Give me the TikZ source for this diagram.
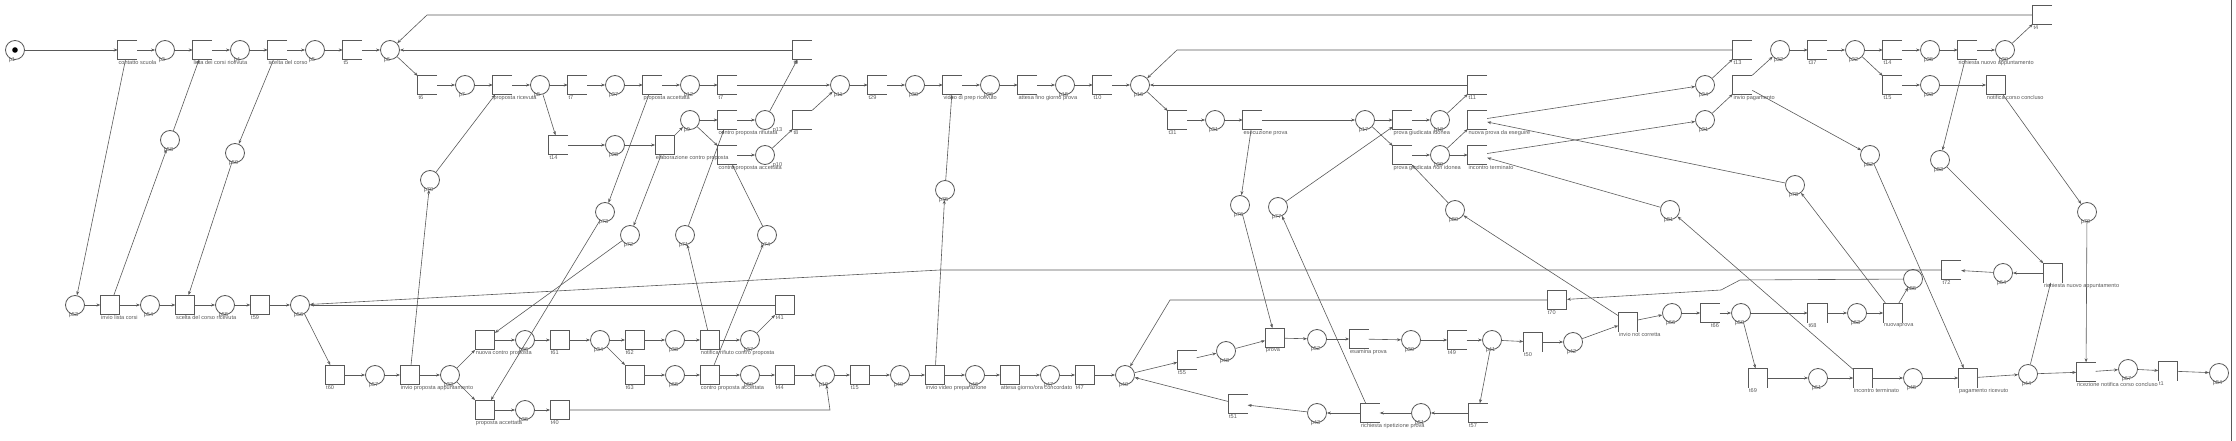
\documentclass[tikz,border=0pt]{standalone}
\usepackage{fontspec}
\setmainfont{Liberation Sans}
\usetikzlibrary{arrows.meta}
\definecolor{linec}{gray}{0.35}
\definecolor{labc}{gray}{0.35}

\begin{document}
\begin{tikzpicture}[x=1pt, y=-1pt,
    lbl/.style={anchor=north west, font=\fontsize{5.6}{6.5}\selectfont, text=labc, inner sep=0.6pt},
    pbase/.style={circle, draw=linec, line width=0.8pt, minimum size=19pt, inner sep=0pt},
    place/.style={pbase, label={[lbl]south west:#1}},
    placeR/.style={pbase, label={[lbl]south east:#1}},
    trans/.style={rectangle, draw=linec, line width=0.8pt, minimum size=19pt, inner sep=0pt, label={[lbl]south west:#1}},
    ghost/.style={rectangle, minimum size=19pt, inner sep=0pt, label={[lbl]south west:#1}},
    arc/.style={draw=linec, line width=0.6pt, -{Stealth[length=4pt, width=3pt]}},
    side/.style={draw=linec, line width=0.8pt}]
\useasboundingbox (0,0) rectangle (2236,441);

% riga iniziale
\node[place=p1] (p1) at (15,50) {};
\fill[black] (p1) circle (2.8pt);
\node[ghost=contatto scuola] (tcs) at (127.5,50) {};
\node[place=p3] (p3) at (165,50) {};
\node[ghost=lista dei corsi ricevuta] (tldc) at (202.5,50) {};
\node[place=p4] (p4) at (240,50) {};
\node[ghost=scelta del corso] (tsc) at (277.5,50) {};
\node[place=p5] (p5) at (315,50) {};
\node[ghost=t5] (t5) at (352.5,50) {};
\node[place=p6] (p6) at (390,50) {};
\node[ghost=t9] (t9) at (802.5,50) {};
\node[ghost=t13] (t13) at (1742.5,50) {};
\node[place=p32] (p32) at (1780,50) {};
\node[ghost=t37] (t37) at (1817.5,50) {};
\node[place=p22] (p22) at (1855,50) {};
\node[ghost=t14] (t14b) at (1892.5,50) {};
\node[place=p25] (p25) at (1930,50) {};
\node[ghost=richiesta nuovo appuntamento] (trna) at (1967.5,50) {};
\node[place=p20] (p20) at (2005,50) {};
\node[ghost=t4] (t4) at (2042.5,15) {};

% proposta e prova
\node[ghost=t6] (t6) at (427.5,85) {};
\node[place=p7] (p7) at (465,85) {};
\node[ghost=proposta ricevuta] (tpr) at (502.5,85) {};
\node[place=p8] (p8) at (540,85) {};
\node[ghost=t7] (t7) at (577.5,85) {};
\node[place=p27] (p27) at (615,85) {};
\node[ghost=proposta accettata] (tpa) at (652.5,85) {};
\node[place=p12] (p12) at (690,85) {};
\node[ghost=t7] (t7b) at (727.5,85) {};
\node[place=p11] (p11) at (840,85) {};
\node[ghost=t29] (t29) at (877.5,85) {};
\node[place=p30] (p30) at (915,85) {};
\node[ghost=video di prep ricevuto] (tvp) at (952.5,85) {};
\node[place=p26] (p26) at (990,85) {};
\node[ghost=attesa fino giorno prova] (taf) at (1027.5,85) {};
\node[place=p15] (p15) at (1065,85) {};
\node[ghost=t10] (t10) at (1102.5,85) {};
\node[place=p16] (p16) at (1140,85) {};
\node[ghost=t11] (t11) at (1477.5,85) {};
\node[ghost=t14] (t14) at (558.5,145) {};
\node[place=p28] (p28) at (615,145) {};
\node[trans=elaborazione contro proposta] (tecp) at (665,145) {};
\node[place=p9] (p9) at (690,120) {};
\node[ghost=contro proposta rifiutata] (tcpr) at (727.5,120) {};
\node[ghost=contro proposta accettata] (tcpa) at (727.5,155) {};
\node[placeR=p13] (p13) at (765,120) {};
\node[placeR=p10] (p10) at (765,155) {};
\node[ghost=t8] (t8) at (802.5,120) {};
\node[place=p70] (p70) at (430,180) {};
\node[place=p73] (p73) at (605,212) {};
\node[place=p72] (p72) at (630,235) {};
\node[place=p71] (p71) at (685,235) {};
\node[place=p74] (p74) at (767,235) {};
\node[place=p75] (p75) at (945,190) {};
\node[ghost=t31] (t31) at (1177.5,120) {};
\node[place=p31] (p31) at (1215,120) {};
\node[ghost=esecuzione prova] (tep) at (1252.5,120) {};
\node[place=p17] (p17) at (1365,120) {};
\node[ghost=prova giudicata idonea] (tpgi) at (1402.5,120) {};
\node[place=p18] (p18) at (1440,120) {};
\node[ghost=nuova prova da eseguire] (tnp) at (1477.5,120) {};
\node[ghost=prova giudicata non idonea] (tpgn) at (1402.5,155) {};
\node[place=p29] (p29) at (1440,155) {};
\node[ghost=incontro terminato] (tit) at (1477.5,155) {};
\node[place=p76] (p76) at (1240,205) {};
\node[place=p77] (p77) at (1278,207) {};
\node[place=p80] (p80) at (1455,210) {};
\node[place=p24] (p24) at (1705,85) {};
\node[place=p21] (p21) at (1705,120) {};
\node[ghost=invio pagamento] (tip) at (1742.5,85) {};
\node[ghost=t15] (t15b) at (1892.5,85) {};
\node[place=p23] (p23) at (1930,85) {};
\node[trans=notifica corso concluso] (tncc) at (1996,85) {};
\node[place=p78] (p78) at (1795,185) {};
\node[place=p81] (p81) at (1670,210) {};
\node[place=p82] (p82) at (1870,155) {};
\node[place=p83] (p83) at (1940,160) {};
\node[place=p79] (p79) at (2087,212) {};

% riga in basso
\node[place=p53] (p53) at (75,305) {};
\node[trans=invio lista corsi] (tilc) at (110.3,305) {};
\node[place=p54] (p54) at (150,305) {};
\node[trans=scelta del corso ricevuta] (tscr) at (185.3,305) {};
\node[place=p55] (p55) at (225,305) {};
\node[trans=t59] (t59) at (260.3,305) {};
\node[place=p56] (p56) at (300,305) {};
\node[place=p58] (p58) at (170,140) {};
\node[place=p59] (p59) at (235,153) {};
\node[trans=t60] (t60) at (335.3,375) {};
\node[place=p57] (p57) at (375,375) {};
\node[trans=invio proposta appuntamento] (tipa) at (410,375) {};
\node[place=p33] (p33) at (450,375) {};
\node[trans=nuova contro proposta] (tncp) at (485,340) {};
\node[place=p36] (p36) at (525,340) {};
\node[trans=t61] (t61) at (560,340) {};
\node[place=p34] (p34) at (600,340) {};
\node[trans=t62] (t62) at (635,340) {};
\node[place=p38] (p38) at (675,340) {};
\node[trans=notifica rifiuto contro proposta] (tnr) at (710,340) {};
\node[place=p37] (p37) at (750,340) {};
\node[trans=t41] (t41) at (785,305) {};
\node[trans=t63] (t63) at (635,375) {};
\node[place=p65] (p65) at (675,375) {};
\node[trans=contro proposta accettata] (tcpa2) at (710,375) {};
\node[place=p60] (p60) at (750,375) {};
\node[trans=t44] (t44) at (785,375) {};
\node[place=p19] (p19) at (825,375) {};
\node[trans=t15] (t15) at (860,375) {};
\node[place=p49] (p49) at (900,375) {};
\node[trans=invio video preparazione] (tivp) at (935,375) {};
\node[place=p46] (p46) at (975,375) {};
\node[trans=attesa giorno/ora concordato] (tagc) at (1010,375) {};
\node[place=p47] (p47) at (1050,375) {};
\node[trans=t47] (t47) at (1085,375) {};
\node[place=p40] (p40) at (1125,375) {};
\node[trans=proposta accettata] (tpa2) at (485,410) {};
\node[place=p35] (p35) at (525,410) {};
\node[trans=t40] (t40) at (560,410) {};
\node[ghost=t55] (t55) at (1187,360) {};
\node[place=p48] (p48) at (1226,351) {};
\node[trans=prova] (tprova) at (1275,338) {};
\node[place=p52] (p52) at (1317,339) {};
\node[ghost=esamina prova] (tesp) at (1359,339) {};
\node[place=p39] (p39) at (1411,340) {};
\node[ghost=t49] (t49) at (1457,340) {};
\node[place=p41] (p41) at (1492,340) {};
\node[ghost=t57] (t57) at (1478,413) {};
\node[place=p51] (p51) at (1421,413) {};
\node[ghost=richiesta ripetizione prova] (trrp) at (1370,413) {};
\node[place=p43] (p43) at (1317,413) {};
\node[ghost=t51] (t51) at (1238,404) {};
\node[trans=t70] (t70) at (1557,300) {};
\node[ghost=invio not corretta] (tinc) at (1628,322) {};
\node[ghost=t50] (t50) at (1533,342) {};
\node[place=p42] (p42) at (1573,342) {};
\node[place=p66] (p66) at (1672,313) {};
\node[ghost=, label={[lbl, anchor=north east]south east:t66}] (t66) at (1710,313) {};
\node[place=p50] (p50) at (1741,313) {};
\node[ghost=t68] (t68) at (1817.5,313) {};
\node[place=p63] (p63) at (1857,313) {};
\node[ghost=nuovaprova] (tnuova) at (1893,313) {};
\node[place=p85] (p85) at (1913,279) {};
\node[ghost=t72] (t72) at (1951.5,270) {};
\node[place=p64] (p64) at (2003,273) {};
\node[ghost=richiesta nuovo appuntamento] (trna2) at (2053,273) {};
\node[ghost=t69] (t69) at (1758,378) {};
\node[place=p61] (p61) at (1818,378) {};
\node[ghost=incontro terminato] (tit2) at (1863,378) {};
\node[place=p45] (p45) at (1913,378) {};
\node[ghost=pagamento ricevuto] (tpr2) at (1968,378) {};
\node[place=p44] (p44) at (2028,374) {};
\node[ghost=ricezione notifica corso concluso] (trnc) at (2086,372) {};
\node[place=p67] (p67) at (2128,369) {};
\node[ghost=t1] (t1) at (2168,371) {};
\node[place=p84] (p84) at (2219,373) {};

% lati delle transizioni aperte
\foreach \n in {tcs, tldc, tsc, t5, t6, tpr, t7, tpa, t7b, t14, tcpr, tcpa, t9, t8,
    t29, tvp, taf, t10, t31, tep, tpgi, tpgn, t11, tnp, tit, t55, tesp, t49, t57,
    trrp, t51, t13, tip, t37, t14b, trna, t4, t15b, t66, t72, trnc}
  \draw[side] (\n.north east) -- (\n.north west) -- (\n.south west) -- (\n.south east);
\foreach \n in {tinc, t50, t68, tnuova, t69, tit2, tpr2, trna2, t1}
  \draw[side] (\n.south west) -- (\n.north west) -- (\n.north east) -- (\n.south east);

% archi
\foreach \a/\b in {p1/tcs, tcs/p3, p3/tldc, tldc/p4, p4/tsc, tsc/p5, p5/t5, t5/p6,
    p6/t6, t6/p7, p7/tpr, tpr/p8, p8/t7, t7/p27, p27/tpa, tpa/p12, p12/t7b, t7b/p11,
    p11/t29, t29/p30, p30/tvp, tvp/p26, p26/taf, taf/p15, p15/t10, t10/p16, p16/t31,
    t31/p31, p31/tep, tep/p17, p17/tpgi, p17/tpgn, tpgi/p18, tpgn/p29, p18/t11,
    t11/p16, p29/tnp, p29/tit, tnp/p24, tit/p21, p24/t13, p21/tip, p32/t37, t37/p22,
    p22/t14b, p22/t15b, t14b/p25, p25/trna, trna/p20, p20/t4, t15b/p23, p23/tncc,
    tncc/p79, p79/trnc, trna/p83, p83/trna2, tip/p82, p82/tpr2, t9/p6}
  \draw[arc] (\a) -- (\b);
\foreach \a/\b in {p8/t14, t14/p28, p28/tecp, tecp/p9, p9/tcpr, p9/tcpa, tcpr/p13,
    tcpa/p10, p13/t9, p10/t8, tpa/p73, p73/tpa2, tecp/p72, p72/tncp, tnr/p71,
    p71/tcpr, tcpa2/p74, p74/tcpa, p70/tpr, tipa/p70, tivp/p75, p75/tvp, tep/p76,
    p76/tprova, trrp/p77, p77/tpgi, p80/tpgn, tinc/p80, tnuova/p78, p78/tnp,
    tit2/p81, p81/tit}
  \draw[arc] (\a) -- (\b);
\foreach \a/\b in {tcs/p53, p53/tilc, tilc/p54, p54/tscr, tscr/p55, p55/t59, t59/p56,
    tilc/p58, p58/tldc, tsc/p59, p59/tscr, p56/t60, t60/p57, p57/tipa, tipa/p33,
    p33/tncp, p33/tpa2, tncp/p36, p36/t61, t61/p34, p34/t62, p34/t63, t62/p38,
    p38/tnr, tnr/p37, p37/t41, t41/p56, t63/p65, p65/tcpa2, tcpa2/p60, p60/t44,
    t44/p19, tpa2/p35, p35/t40, p19/t15, t15/p49, p49/tivp, tivp/p46, p46/tagc,
    tagc/p47, p47/t47, t47/p40}
  \draw[arc] (\a) -- (\b);
\foreach \a/\b in {p40/t55, t55/p48, p48/tprova, tprova/p52, p52/tesp, tesp/p39,
    p39/t49, t49/p41, p41/t57, p41/t50, t57/p51, p51/trrp, trrp/p43, p43/t51, t51/p40,
    t50/p42, p42/tinc, tinc/p66, p66/t66, t66/p50, p50/t68, p50/t69, t68/p63,
    p63/tnuova, tnuova/p85, p64/t72, trna2/p64, t69/p61, p61/tit2, tit2/p45,
    p45/tpr2, tpr2/p44, p44/trna2, p44/trnc, trnc/p67, p67/t1, t1/p84}
  \draw[arc] (\a) -- (\b);

% archi con piegature
\coordinate (bA) at (427,15);
\coordinate (bB) at (1177,50);
\coordinate (bC) at (830,410);
\coordinate (bD) at (1170,300);
\coordinate (bE) at (1740,280);
\coordinate (bF) at (1721,290);
\coordinate (bG) at (940,270);
\draw[arc] (t4) -- (bA) -- (p6);
\draw[arc] (t13) -- (bB) -- (p16);
\draw[arc] (t40) -- (bC) -- (p19);
\draw[arc] (t70) -- (bD) -- (p40);
\draw[arc] (p85) -- (bE) -- (bF) -- (t70);
\draw[arc] (t72) -- (bG) -- (p56);
\draw[arc] (t8.north east) -- (p11);
\draw[arc] (tip.north east) -- (p32);

\draw[side] (2231,0) -- (2231,441);
\end{tikzpicture}
\end{document}
